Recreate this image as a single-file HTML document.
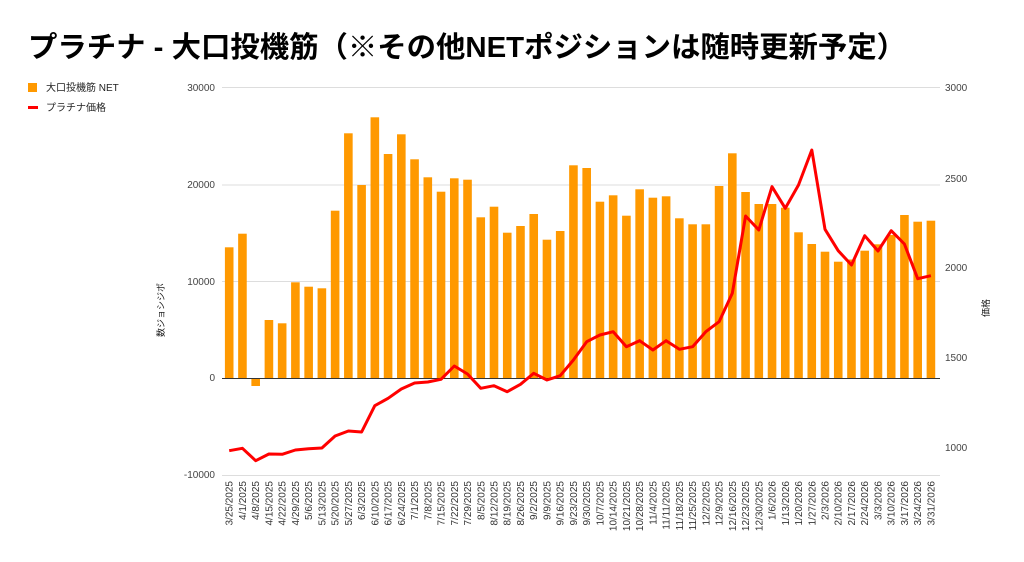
<!DOCTYPE html>
<html><head><meta charset="utf-8"><style>
body{margin:0;background:#fff;}
svg{display:block;font-family:"Liberation Sans","Noto Sans CJK JP",sans-serif;}
</style></head><body>
<svg id="s" width="1024" height="562" viewBox="0 0 1024 562">
<rect width="1024" height="562" fill="#fff"/>
<text x="28" y="57" font-size="29" font-weight="bold" fill="#000" textLength="878" lengthAdjust="spacingAndGlyphs">プラチナ - 大口投機筋（※その他NETポジションは随時更新予定）</text>
<rect x="28" y="83" width="9" height="9" fill="#ff9900"/>
<text x="46" y="91" font-size="10" fill="#222">大口投機筋  NET</text>
<rect x="28" y="106" width="10" height="3" fill="#ff0000"/>
<text x="46" y="111" font-size="10" fill="#222">プラチナ価格</text>
<g stroke="#ddd" stroke-width="1">
<line x1="222" x2="940" y1="87.5" y2="87.5"/>
<line x1="222" x2="940" y1="185" y2="185"/>
<line x1="222" x2="940" y1="281.5" y2="281.5"/>
<line x1="222" x2="940" y1="475.5" y2="475.5"/>
</g>
<g font-size="10" fill="#444" text-anchor="end">
<text x="215" y="91">30000</text>
<text x="215" y="188">20000</text>
<text x="215" y="285">10000</text>
<text x="215" y="381">0</text>
<text x="215" y="478">-10000</text>
</g>
<g font-size="10" fill="#444">
<text x="945" y="91">3000</text>
<text x="945" y="182">2500</text>
<text x="945" y="271">2000</text>
<text x="945" y="361">1500</text>
<text x="945" y="451">1000</text>
</g>
<text transform="translate(164,310) rotate(-90)" font-size="9" fill="#222" text-anchor="middle">数ジョシジポ</text>
<text transform="translate(989,308) rotate(-90)" font-size="9" fill="#222" text-anchor="middle">価格</text>
<g id="bars" fill="#ff9900"></g>
<line x1="222" x2="940" y1="378.5" y2="378.5" stroke="#333" stroke-width="1"/>
<polyline id="pl" fill="none" stroke="#ff0000" stroke-width="3" stroke-linejoin="round"/>
<g id="lab" font-size="10" fill="#333" text-anchor="end">
<text>3/25/2025</text><text>4/1/2025</text><text>4/8/2025</text><text>4/15/2025</text><text>4/22/2025</text><text>4/29/2025</text><text>5/6/2025</text><text>5/13/2025</text><text>5/20/2025</text><text>5/27/2025</text><text>6/3/2025</text><text>6/10/2025</text><text>6/17/2025</text><text>6/24/2025</text><text>7/1/2025</text><text>7/8/2025</text><text>7/15/2025</text><text>7/22/2025</text><text>7/29/2025</text><text>8/5/2025</text><text>8/12/2025</text><text>8/19/2025</text><text>8/26/2025</text><text>9/2/2025</text><text>9/9/2025</text><text>9/16/2025</text><text>9/23/2025</text><text>9/30/2025</text><text>10/7/2025</text><text>10/14/2025</text><text>10/21/2025</text><text>10/28/2025</text><text>11/4/2025</text><text>11/11/2025</text><text>11/18/2025</text><text>11/25/2025</text><text>12/2/2025</text><text>12/9/2025</text><text>12/16/2025</text><text>12/23/2025</text><text>12/30/2025</text><text>1/6/2026</text><text>1/13/2026</text><text>1/20/2026</text><text>1/27/2026</text><text>2/3/2026</text><text>2/10/2026</text><text>2/17/2026</text><text>2/24/2026</text><text>3/3/2026</text><text>3/10/2026</text><text>3/17/2026</text><text>3/24/2026</text><text>3/31/2026</text>
</g>
</svg>
<script>
var tops=[247.3,233.7,386,320,323.3,282.3,286.7,288.3,210.7,133.3,185,117.3,154,134.3,159.3,177.3,191.7,178.3,179.7,217.3,206.7,232.7,226,214,239.7,231,165.3,168,201.7,195.3,215.7,189.3,197.7,196.3,218.3,224.3,224.3,186,153.3,192,204,204,207.7,232.3,244,251.7,261.7,259.5,250.7,244.3,235,215,221.7,220.7];
var ly=[450.7,448.3,460.7,454,454.3,450,448.7,448,436,431,432,405.7,398.3,389,383,382,379.3,366,374,388.3,385.7,391.7,384.3,373.3,380,375.7,360,341.7,335,331.7,346.7,340.7,350,340.7,349.3,346.7,331.7,321.7,293.3,216,230,186.7,208.3,185,150,229.3,250.7,265,235.7,251,230.7,244,278.7,275.7];
var ns="http://www.w3.org/2000/svg",g=document.getElementById("bars"),pts=[],labs=document.getElementById("lab").children;
for(var i=0;i<54;i++){var cx=229.2+i*13.24;var r=document.createElementNS(ns,"rect");var t=tops[i],y0=378.3;
r.setAttribute("x",cx-4.3);r.setAttribute("width",8.6);r.setAttribute("y",Math.min(t,y0));r.setAttribute("height",Math.abs(t-y0));g.appendChild(r);
pts.push(cx.toFixed(1)+","+ly[i]);
labs[i].setAttribute("transform","translate("+(cx+3.5).toFixed(1)+",481) rotate(-90)");}
document.getElementById("pl").setAttribute("points",pts.join(" "));
</script>
</body></html>
